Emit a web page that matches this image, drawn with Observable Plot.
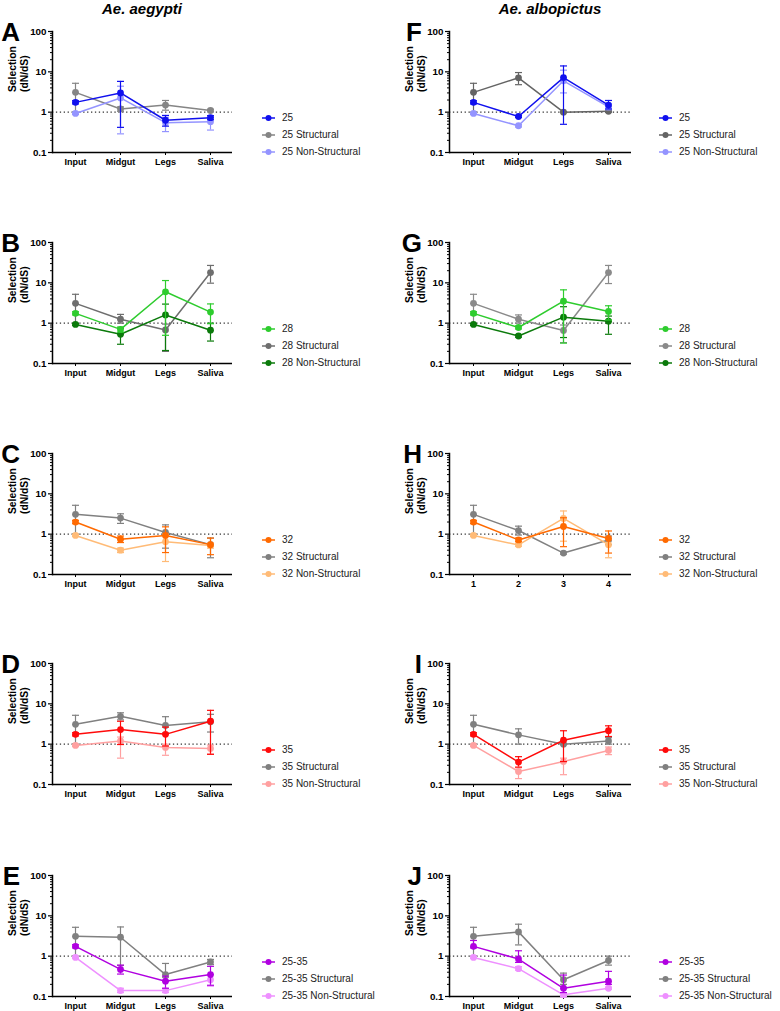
<!DOCTYPE html>
<html><head><meta charset="utf-8">
<script src="https://cdn.jsdelivr.net/npm/d3@7"></script>
<script src="https://cdn.jsdelivr.net/npm/@observablehq/plot@0.6"></script>
<style>
body{margin:0;background:#fff;font-family:"Liberation Sans",Arial,sans-serif;}
#root{position:relative;width:780px;height:1011px;overflow:hidden;background:#fff;}
.title{position:absolute;top:0;font-weight:bold;font-style:italic;font-size:15px;line-height:17px;transform:translateX(-50%);white-space:nowrap;color:#000}
.letter{position:absolute;width:40px;text-align:right;font-weight:bold;font-size:26px;line-height:1;color:#000}
.panel{position:absolute}
.legend{position:absolute;font-size:10px;color:#222}
.legend .row{display:flex;align-items:center;height:17px;white-space:nowrap}
.legend svg{margin-right:7px}
</style></head><body><div id="root"></div>
<script>
// ---- tick labels / categories ----
const categories = ["Input", "Midgut", "Legs", "Saliva"];
const categoriesNum = ["1", "2", "3", "4"];
const yTicks = [0.1, 1, 10, 100];
const yTickLabels = ["0.1", "1", "10", "100"];
const yMinorTicks = [0.2,0.3,0.4,0.5,0.6,0.7,0.8,0.9,2,3,4,5,6,7,8,9,20,30,40,50,60,70,80,90];
const speciesTitles = ["Ae. aegypti", "Ae. albopictus"];

// ---- values: [dN/dS, lower error, upper error] per tissue ----
// Ae. aegypti
const A_main   = [[1.75,1.6,1.92],[3.0,0.42,5.8],[0.63,0.45,0.83],[0.73,0.65,0.82]];
const A_struct = [[3.1,1.0,5.2],[1.2,1.05,1.35],[1.5,1.12,1.95],[1.1,1.02,1.18]];
const A_non    = [[0.93,0.88,0.98],[2.25,0.29,4.4],[0.55,0.33,0.75],[0.58,0.36,0.75]];
const B_main   = [[1.75,1.6,1.92],[0.7,0.6,0.8],[6.0,0.5,11.4],[1.88,0.97,3.0]];
const B_struct = [[3.1,1.0,5.2],[1.25,1.0,1.65],[0.68,0.2,0.95],[18,9.8,27]];
const B_non    = [[0.93,0.88,0.98],[0.53,0.3,0.75],[1.6,0.21,2.97],[0.67,0.36,1.0]];
const C_main   = [[2.0,1.82,2.2],[0.75,0.62,0.9],[0.93,0.35,1.52],[0.55,0.31,0.8]];
const C_struct = [[3.1,1.0,5.2],[2.5,1.85,3.2],[1.1,0.45,1.7],[0.55,0.26,0.8]];
const C_non    = [[0.93,0.88,0.98],[0.4,0.35,0.45],[0.65,0.21,1.0],[0.52,0.45,0.6]];
const D_main   = [[1.75,1.6,1.92],[2.3,0.98,3.7],[1.75,0.9,2.65],[3.7,0.56,6.9]];
const D_struct = [[3.1,1.0,5.2],[4.9,4.0,6.0],[2.9,1.9,4.8],[3.6,2.0,5.5]];
const D_non    = [[0.93,0.88,0.98],[1.2,0.45,1.5],[0.83,0.53,1.0],[0.78,0.57,0.95]];
const E_main   = [[1.75,1.6,1.92],[0.47,0.36,0.6],[0.24,0.16,0.32],[0.35,0.19,0.56]];
const E_struct = [[3.1,1.0,5.2],[2.95,0.59,5.3],[0.35,0.3,0.66],[0.72,0.62,0.83]];
const E_non    = [[0.93,0.88,0.98],[0.14,0.125,0.16],[0.14,0.125,0.16],[0.26,0.18,0.35]];
// Ae. albopictus
const F_main   = [[1.75,1.6,1.92],[0.78,0.74,0.82],[7.2,0.5,14],[1.5,1.2,1.95]];
const F_struct = [[3.1,1.0,5.2],[7.1,4.8,9.6],[1.0,0.97,1.03],[1.05,1.0,1.1]];
const F_non    = [[0.93,0.88,0.98],[0.46,0.43,0.49],[6.0,3.0,11],[1.35,1.15,1.6]];
const G_main   = [[1.75,1.6,1.92],[0.78,0.72,0.85],[3.5,0.32,6.7],[1.95,1.2,2.7]];
const G_struct = [[3.1,1.0,5.2],[1.25,1.0,1.6],[0.66,0.33,0.9],[18,9.6,27]];
const G_non    = [[0.93,0.88,0.98],[0.48,0.45,0.52],[1.41,0.44,2.56],[1.12,0.53,1.5]];
const H_main   = [[2.0,1.82,2.2],[0.72,0.65,0.8],[1.55,0.49,2.55],[0.78,0.34,1.2]];
const H_struct = [[3.1,1.0,5.2],[1.23,0.95,1.58],[0.34,0.32,0.36],[0.72,0.55,0.9]];
const H_non    = [[0.93,0.88,0.98],[0.54,0.5,0.58],[2.45,0.67,3.76],[0.55,0.26,0.75]];
const I_main   = [[1.75,1.6,1.92],[0.36,0.27,0.49],[1.25,0.37,2.15],[2.15,1.55,2.85]];
const I_struct = [[3.1,1.0,5.2],[1.7,1.0,2.4],[1.0,0.97,1.03],[1.2,1.0,1.45]];
const I_non    = [[0.93,0.88,0.98],[0.21,0.14,0.26],[0.37,0.175,0.45],[0.7,0.55,0.85]];
const J_main   = [[1.75,1.6,2.45],[0.85,0.7,1.36],[0.16,0.125,0.34],[0.24,0.2,0.42]];
const J_struct = [[3.1,1.0,5.2],[4.0,1.9,6.2],[0.26,0.2,0.38],[0.78,0.6,1.0]];
const J_non    = [[0.93,0.88,0.98],[0.49,0.45,0.55],[0.11,0.1,0.12],[0.16,0.15,0.17]];

// ---- colours [main, structural, non-structural] ----
const colorsA = ["#1010ee","#858585","#9494ff"];
const colorsF = ["#1010ee","#646464","#9494ff"];
const colorsB = ["#2ecc2e","#6e6e6e","#0b7a0b"];
const colorsG = ["#2ecc2e","#8a8a8a","#0b7a0b"];
const colorsC = ["#ff6a00","#808080","#ffbb77"];
const colorsD = ["#ff0a0a","#808080","#ffa0a0"];
const colorsE = ["#b000e0","#808080","#ee90ff"];

const panels = [
  {letter:"A", col:0, row:0, temp:"25", cats:categories, data:[A_main,A_struct,A_non], colors:colorsA},
  {letter:"B", col:0, row:1, temp:"28", cats:categories, data:[B_main,B_struct,B_non], colors:colorsB},
  {letter:"C", col:0, row:2, temp:"32", cats:categories, data:[C_main,C_struct,C_non], colors:colorsC},
  {letter:"D", col:0, row:3, temp:"35", cats:categories, data:[D_main,D_struct,D_non], colors:colorsD},
  {letter:"E", col:0, row:4, temp:"25-35", cats:categories, data:[E_main,E_struct,E_non], colors:colorsE},
  {letter:"F", col:1, row:0, temp:"25", cats:categories, data:[F_main,F_struct,F_non], colors:colorsF},
  {letter:"G", col:1, row:1, temp:"28", cats:categories, data:[G_main,G_struct,G_non], colors:colorsG},
  {letter:"H", col:1, row:2, temp:"32", cats:categoriesNum, data:[H_main,H_struct,H_non], colors:colorsC},
  {letter:"I", col:1, row:3, temp:"35", cats:categories, data:[I_main,I_struct,I_non], colors:colorsD},
  {letter:"J", col:1, row:4, temp:"25-35", cats:categories, data:[J_main,J_struct,J_non], colors:colorsE}
];

// ---- layout ----
const rowTops = [31, 242, 453, 663, 875];
const colAxisX = [52, 449];
const colPlotW = [180, 182];
const colLetterRight = [20, 422];
const titleCenters = [142, 550];
const mL = 52, mR = 6, mT = 10, mB = 28, plotH = 121;

// horizontal cap symbol for error bars
const capSymbol = {draw(ctx) { ctx.moveTo(-3.5, 0); ctx.lineTo(3.5, 0); }};

const root = document.getElementById("root");

speciesTitles.forEach((t, i) => {
  const d = document.createElement("div");
  d.className = "title";
  d.style.left = titleCenters[i] + "px";
  d.textContent = t;
  root.appendChild(d);
});

const font = "'Liberation Sans', Arial, sans-serif";

panels.forEach(p => {
  const plotTop = rowTops[p.row];
  const axisX = colAxisX[p.col];
  const names = [p.temp, p.temp + " Structural", p.temp + " Non-Structural"];
  const series = names.map((name, si) => p.data[si].map((d, i) => ({
    series: name, cat: p.cats[i], v: d[0], lo: d[1], hi: d[2]
  })));
  const drawOrder = [1, 2, 0];
  const seriesMarks = [];
  drawOrder.forEach(si => {
    const c = p.colors[si];
    const sub = series[si];
    seriesMarks.push(
      Plot.ruleX(sub, {x: "cat", y1: "lo", y2: "hi", stroke: c, strokeWidth: 1.2}),
      Plot.dot(sub, {x: "cat", y: "hi", symbol: capSymbol, r: 3, fill: "none", stroke: c, strokeWidth: 1.2}),
      Plot.dot(sub, {x: "cat", y: "lo", symbol: capSymbol, r: 3, fill: "none", stroke: c, strokeWidth: 1.2}),
      Plot.line(sub, {x: "cat", y: "v", stroke: c, strokeWidth: 1.5}),
      Plot.dot(sub, {x: "cat", y: "v", fill: c, r: 3.4})
    );
  });

  const chart = Plot.plot({
    width: mL + colPlotW[p.col] + mR,
    height: mT + plotH + mB,
    marginLeft: mL, marginRight: mR, marginTop: mT, marginBottom: mB,
    style: {fontFamily: font, fontSize: "9px", fontWeight: "bold", color: "#000", background: "transparent", overflow: "visible"},
    x: {type: "point", domain: p.cats, padding: 0.5, label: null},
    y: {type: "log", domain: [0.1, 100], label: null},
    marks: [
      Plot.ruleY([1], {stroke: "#333", strokeWidth: 1.1, strokeDasharray: "1.3,2.6"}),
      Plot.axisY(yMinorTicks, {tickSize: 2, tickFormat: () => "", strokeWidth: 1}),
      Plot.axisY(yTicks, {tickSize: 4, tickPadding: 2, strokeWidth: 1.2,
        tickFormat: d => yTickLabels[yTicks.indexOf(d)], fontSize: 9.8, fontWeight: "bold"}),
      Plot.axisX({tickSize: 3, tickPadding: 3, fontSize: 9, fontWeight: "bold"}),
      Plot.ruleY([0.1], {stroke: "#000", strokeWidth: 1.5}),
      Plot.frame({anchor: "left", stroke: "#000", strokeWidth: 1.5}),
      ...seriesMarks,
      Plot.text(["Selection\n(dN/dS)"], {frameAnchor: "left", rotate: -90, dx: -34,
        fontSize: 10.3, fontWeight: "bold", lineHeight: 1.1, fill: "#000"})
    ]
  });

  const wrap = document.createElement("div");
  wrap.className = "panel";
  wrap.style.left = (axisX - mL) + "px";
  wrap.style.top = (plotTop - mT) + "px";
  wrap.appendChild(chart);
  root.appendChild(wrap);

  const L = document.createElement("div");
  L.className = "letter";
  L.style.left = (colLetterRight[p.col] - 40) + "px";
  L.style.top = (plotTop - 12) + "px";
  L.textContent = p.letter;
  root.appendChild(L);

  const lg = document.createElement("div");
  lg.className = "legend";
  lg.style.left = (axisX + 210) + "px";
  lg.style.top = (plotTop + 78) + "px";
  names.forEach((name, si) => {
    const r = document.createElement("div");
    r.className = "row";
    const c = p.colors[si];
    r.innerHTML = `<svg width="13" height="8"><line x1="0" y1="4" x2="13" y2="4" stroke="${c}" stroke-width="1.5"/><circle cx="6.5" cy="4" r="3" fill="${c}"/></svg><span>${name}</span>`;
    lg.appendChild(r);
  });
  root.appendChild(lg);
});
</script></body></html>
